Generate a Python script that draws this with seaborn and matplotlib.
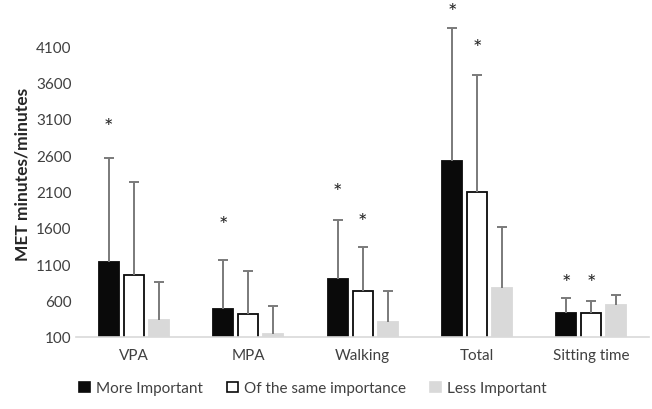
import numpy as np
import pandas as pd
import seaborn as sns
import matplotlib.pyplot as plt

sns.set_theme(style="white")
plt.rcParams["font.family"] = ["Lato", "DejaVu Sans"]

categories = ["VPA", "MPA", "Walking", "Total", "Sitting time"]
groups = ["More Important", "Of the same importance", "Less Important"]
means = {
    "More Important": [1130, 485, 897, 2516, 434],
    "Of the same importance": [950, 420, 728, 2094, 434],
    "Less Important": [334, 135, 302, 769, 540],
}
err_top = {
    "More Important": [2560, 1159, 1709, 4358, 632],
    "Of the same importance": [2231, 1007, 1337, 3707, 595],
    "Less Important": [856, 530, 728, 1617, 677],
}
# asterisk heights (None = no asterisk)
stars = {
    "More Important": [3060, 1713, 2167, 4656, 921],
    "Of the same importance": [None, None, 1760, 4160, 921],
    "Less Important": [None, None, None, None, None],
}

rows = []
for g in groups:
    for c, v in zip(categories, means[g]):
        rows.append({"cat": c, "group": g, "value": v})
df = pd.DataFrame(rows)

fill = {"More Important": "#0a0a0a", "Of the same importance": "white", "Less Important": "#d9d9d9"}
edge = {"More Important": "#0a0a0a", "Of the same importance": "#0a0a0a", "Less Important": "#d9d9d9"}

fig = plt.figure(figsize=(6.52, 4.10), dpi=100)
ax = fig.add_axes([0.117, 0.176, 0.878, 0.797])

sns.barplot(data=df, x="cat", y="value", hue="group", hue_order=groups,
            order=categories, width=0.655, gap=0.2, ax=ax, legend=False)

handles = []
for g, cont in zip(groups, ax.containers):
    xs = []
    for p in cont.patches:
        p.set_facecolor(fill[g])
        p.set_edgecolor(edge[g])
        p.set_linewidth(1.3)
        xs.append(p.get_x() + p.get_width() / 2)
    xs = np.array(xs)
    m = np.array(means[g])
    top = np.array(err_top[g])
    # upper-only error bars
    ax.vlines(xs, m, top, color="#7a7a7a", linewidth=1.4, zorder=1)
    ax.scatter(xs, top, marker="_", s=50, linewidths=1.4, color="#7a7a7a", zorder=1)
    for x, s in zip(xs, stars[g]):
        if s is not None:
            ax.annotate("*", (x, s), xytext=(0, -4), textcoords="offset points",
                        ha="center", va="center", fontsize=16, color="#262626",
                        annotation_clip=False)
    handles.append(plt.Rectangle((0, 0), 1, 1, facecolor=fill[g], edgecolor=edge[g], linewidth=1.2))

ax.set_ylim(100, 4600)
ax.set_yticks(np.arange(100, 4101, 500))
ax.set_xlim(-0.5, 4.5)
ax.set_xlabel("")
ax.set_ylabel("MET minutes/minutes", fontsize=12.5, fontweight="bold", color="#262626")
ax.tick_params(axis="both", labelsize=11, colors="#404040", length=0)
for s in ["top", "right", "left"]:
    ax.spines[s].set_visible(False)
ax.spines["bottom"].set_color("#d9d9d9")
ax.spines["bottom"].set_linewidth(1.2)
ax.tick_params(axis="x", pad=8)

fig.legend(handles, groups, loc="lower center", bbox_to_anchor=(0.48, 0.0), ncol=3,
           frameon=False, fontsize=11, handlelength=0.7, handleheight=0.7,
           handletextpad=0.4, columnspacing=1.6, labelcolor="#404040")

fig.savefig("out.png", dpi=100)
